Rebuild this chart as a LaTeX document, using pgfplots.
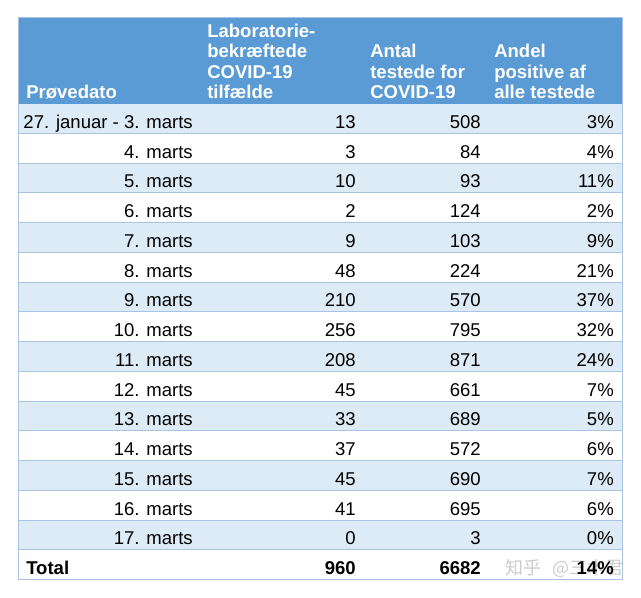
\documentclass[border=0pt]{standalone}
\usepackage{fontspec}
\setmainfont{Liberation Sans}
\newfontfamily\cjk{Noto Sans CJK SC}
\usepackage{pgfplots}
\usepackage{pgfplotstable}
\pgfplotsset{compat=1.18}
\definecolor{hdr}{HTML}{5B9BD5}
\definecolor{stripe}{HTML}{DDEBF7}
\definecolor{sep}{HTML}{A9C4E2}
\newcommand\tabfont{\fontsize{13.9}{15.3}\selectfont}

\pgfplotstableread{
y date cases tested pct
128.30 {27. januar - 3. marts} 13 508 3
158.05 {4. marts} 3 84 4
187.80 {5. marts} 10 93 11
217.55 {6. marts} 2 124 2
247.30 {7. marts} 9 103 9
277.05 {8. marts} 48 224 21
306.80 {9. marts} 210 570 37
336.55 {10. marts} 256 795 32
366.30 {11. marts} 208 871 24
396.05 {12. marts} 45 661 7
425.80 {13. marts} 33 689 5
455.55 {14. marts} 37 572 6
485.30 {15. marts} 45 690 7
515.05 {16. marts} 41 695 6
544.80 {17. marts} 0 3 0
}\rows

\pgfplotstableread{
y label cases tested pct
574.55 Total 960 6682 14
}\total

\pgfplotstableread{
x y label
26 98.5 Prøvedato
207 37.3 Laboratorie-
207 57.7 bekræftede
207 78.1 COVID-19
207 98.5 tilfælde
370 57.7 Antal
370 78.1 {testede for}
370 98.5 COVID-19
494 57.7 Andel
494 78.1 {positive af}
494 98.5 {alle testede}
}\header

\pgfplotsset{
  txt/.style={only marks, mark=none, point meta=explicit symbolic,
    nodes near coords,
    every node near coord/.append style={inner sep=0pt, font=\tabfont, anchor=#1}},
}

\begin{document}
\begin{tikzpicture}
\begin{axis}[
  scale only axis, width=480.75pt, height=447.75pt,
  xmin=0, xmax=641, ymin=0, ymax=597, y dir=reverse,
  hide axis, clip=false, unbounded coords=jump,
]
\addplot[draw=none] coordinates {(0,0) (641,597)};
% header background
\addplot[fill=hdr, draw=none] coordinates {(18,17) (622,17) (622,103.5) (18,103.5)};
% stripes
\addplot[fill=stripe, draw=none] coordinates {(18,103.5) (622,103.5) (622,133.25) (18,133.25)};
\addplot[fill=stripe, draw=none] coordinates {(18,163) (622,163) (622,192.75) (18,192.75)};
\addplot[fill=stripe, draw=none] coordinates {(18,222.5) (622,222.5) (622,252.25) (18,252.25)};
\addplot[fill=stripe, draw=none] coordinates {(18,282) (622,282) (622,311.75) (18,311.75)};
\addplot[fill=stripe, draw=none] coordinates {(18,341.5) (622,341.5) (622,371.25) (18,371.25)};
\addplot[fill=stripe, draw=none] coordinates {(18,401) (622,401) (622,430.75) (18,430.75)};
\addplot[fill=stripe, draw=none] coordinates {(18,460.5) (622,460.5) (622,490.25) (18,490.25)};
\addplot[fill=stripe, draw=none] coordinates {(18,520) (622,520) (622,549.75) (18,549.75)};
% row separators
\addplot[sep, line width=0.75pt] coordinates {
 (18,133.25) (622,133.25) (nan,nan)
 (18,163) (622,163) (nan,nan)
 (18,192.75) (622,192.75) (nan,nan)
 (18,222.5) (622,222.5) (nan,nan)
 (18,252.25) (622,252.25) (nan,nan)
 (18,282) (622,282) (nan,nan)
 (18,311.75) (622,311.75) (nan,nan)
 (18,341.5) (622,341.5) (nan,nan)
 (18,371.25) (622,371.25) (nan,nan)
 (18,401) (622,401) (nan,nan)
 (18,430.75) (622,430.75) (nan,nan)
 (18,460.5) (622,460.5) (nan,nan)
 (18,490.25) (622,490.25) (nan,nan)
 (18,520) (622,520) (nan,nan)
 (18,549.75) (622,549.75)
};
% outer border
\addplot[sep, line width=0.75pt] coordinates {(18,17) (622,17) (622,579.5) (18,579.5) (18,17)};
% header text
\addplot[txt=base west, every node near coord/.append style={text=white, font=\tabfont\bfseries}]
  table[x=x, y=y, meta=label] {\header};
% body
\addplot[txt=base east] table[x expr=193, y=y, meta=date] {\rows};
\addplot[txt=base east] table[x expr=356, y=y, meta=cases] {\rows};
\addplot[txt=base east] table[x expr=481, y=y, meta=tested] {\rows};
\addplot[txt=base east, nodes near coords={\pgfplotspointmeta\%}] table[x expr=614, y=y, meta=pct] {\rows};
% total
\addplot[txt=base west, every node near coord/.append style={font=\tabfont\bfseries}] table[x expr=26, y=y, meta=label] {\total};
\addplot[txt=base east, every node near coord/.append style={font=\tabfont\bfseries}] table[x expr=356, y=y, meta=cases] {\total};
\addplot[txt=base east, every node near coord/.append style={font=\tabfont\bfseries}] table[x expr=481, y=y, meta=tested] {\total};
\addplot[txt=base east, every node near coord/.append style={font=\tabfont\bfseries}, nodes near coords={\pgfplotspointmeta\%}] table[x expr=614, y=y, meta=pct] {\total};
% watermark
\node[anchor=base west, inner sep=0pt, text=black!25, opacity=0.8, font=\cjk\fontsize{13.5}{14}\selectfont] at (axis cs:505,574.5) {知乎\hspace{0.6em}@三木君};
\end{axis}
\end{tikzpicture}
\end{document}
